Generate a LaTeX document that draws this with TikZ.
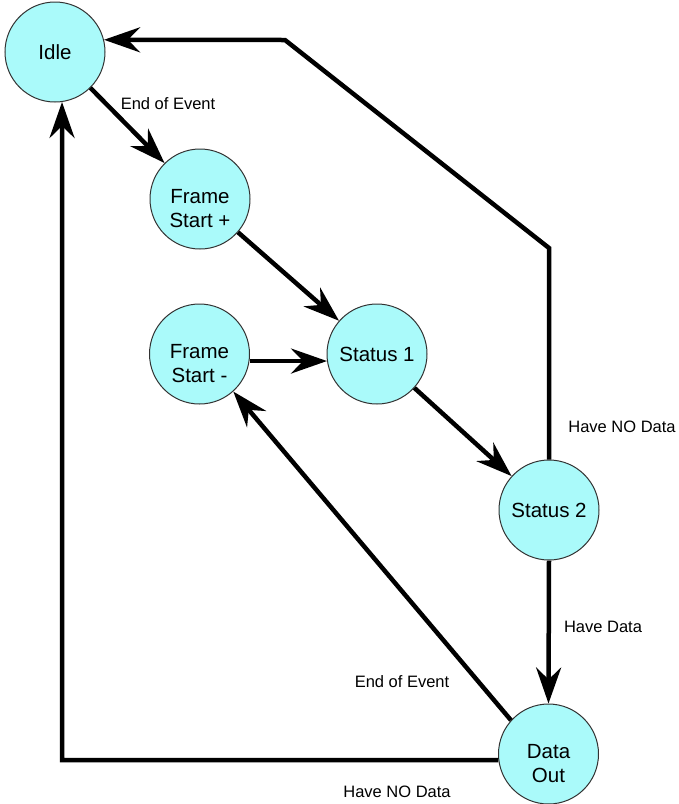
\documentclass[tikz,border=0pt]{standalone}
\usepackage{fontspec}
\setmainfont{Liberation Sans}
\usetikzlibrary{arrows.meta}
\definecolor{statefill}{RGB}{170,250,250}
\definecolor{stateline}{RGB}{50,50,50}
\newcommand{\twolines}[2]{\raisebox{-17pt}[0pt][0pt]{\begin{tabular}{@{}c@{}}#1\\#2\end{tabular}}}
\begin{document}
\begin{tikzpicture}[x=1pt,y=-1pt,
  state/.style={circle,draw=stateline,line width=1pt,fill=statefill,minimum size=100pt,inner sep=0pt,align=center,font=\fontsize{20.5}{24}\selectfont},
  conn/.style={line width=4.5pt,draw=black,-{Stealth[length=36pt,width=25pt,inset=12pt]}},
  lbl/.style={font=\fontsize{16.5}{19}\selectfont,inner sep=0pt}]
\useasboundingbox (0,0) rectangle (679,804);
\node[state] (idle) at (55,52) {Idle};
\node[state] (fsp) at (200,199) {\twolines{Frame}{Start +}};
\node[state] (fsm) at (199.5,354) {\twolines{Frame}{Start -}};
\node[state] (s1) at (377,354) {Status 1};
\node[state] (s2) at (549,510) {Status 2};
\node[state] (do) at (548.5,754) {\twolines{Data}{Out}};
\coordinate (c1) at (549,248);
\coordinate (c2) at (285,40);
\coordinate (c3) at (62,760);
\draw[conn] (idle) -- (fsp);
\draw[conn] (fsp) -- (s1);
\draw[conn] (fsm.-8) -- (s1.188);
\draw[conn] (s1) -- (s2);
\draw[conn] (s2.north) -- (c1) -- (c2) -- (idle.14);
\draw[conn] (s2.south) -- (do.north);
\draw[conn] (do.138) -- (fsm.-48);
\draw[conn] (do.187) -- (c3) -- (idle.-82);
\node[lbl] (l1) at (168,104) {End of Event};
\node[lbl] (l2) at (622,427) {Have NO Data};
\node[lbl] (l3) at (603,627) {Have Data};
\node[lbl] (l4) at (402,682) {End of Event};
\node[lbl] (l5) at (397,792) {Have NO Data};
\end{tikzpicture}
\end{document}
